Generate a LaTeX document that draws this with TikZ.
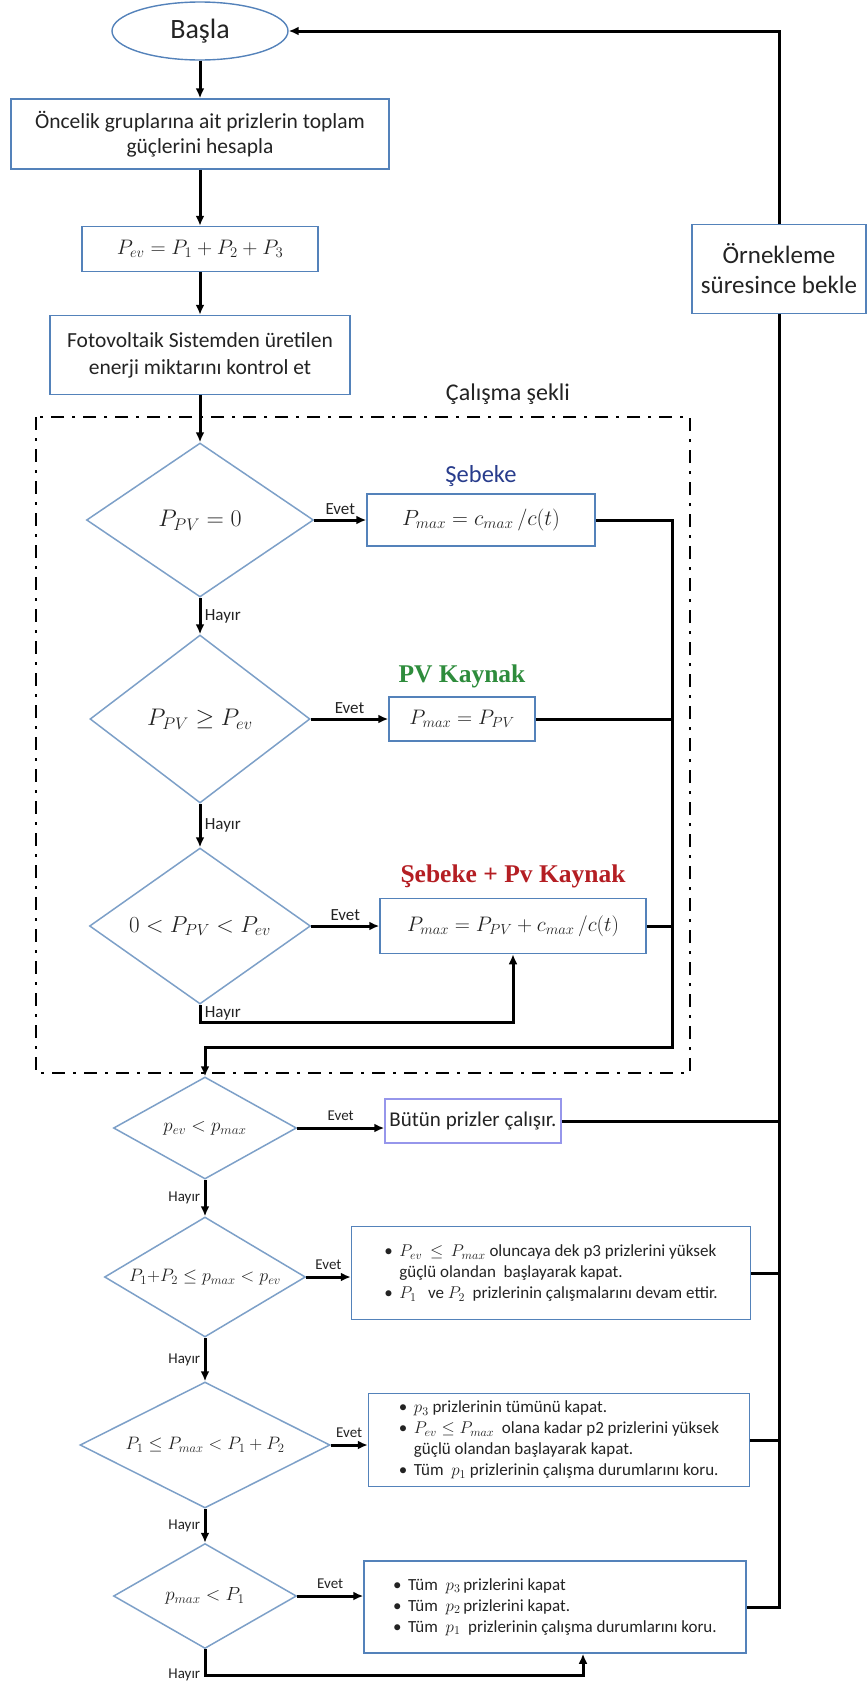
\RequirePackage{fix-cm}
\documentclass[tikz,border=0pt]{standalone}
\usepackage{fontspec}
\setmainfont{Carlito}
\newfontfamily\tnr{Liberation Serif}
\usetikzlibrary{shapes.geometric,arrows.meta,positioning,calc}
\definecolor{boxblue}{RGB}{84,130,186}
\definecolor{diablue}{RGB}{125,160,200}
\definecolor{lilac}{RGB}{150,150,235}
\definecolor{txt}{RGB}{35,35,35}
\definecolor{gridblue}{RGB}{40,60,140}
\definecolor{pvgreen}{RGB}{46,140,60}
\definecolor{mixred}{RGB}{180,30,35}
\newcommand\fsz[2]{\fontsize{#1}{#2}\selectfont}
\newcommand\itm{\makebox[15pt][l]{\textbullet}}
\newcommand\ind{\hspace*{15pt}}

\begin{document}
\begin{tikzpicture}[x=1pt,y=-1pt]

\tikzset{startnode/.style={ellipse,draw=boxblue,line width=1.4pt,minimum width=176pt,minimum height=58pt,inner sep=0pt,text=txt,font=\fsz{28}{34}},
procbox/.style={rectangle,draw=boxblue,line width=1.5pt,align=center,inner sep=0pt,text=txt},
decision/.style={diamond,draw=diablue,line width=1.5pt,aspect=2,inner sep=0pt,text=txt},
line/.style={line width=3pt,black},
arrow/.style={line,-{Latex[length=10pt,width=9pt]}},
evetlbl/.style={above=1pt,font=\fsz{17}{20},text=txt},
hayirlbl/.style={font=\fsz{17}{20},text=txt},
evetsm/.style={above=3pt,font=\fsz{15}{18},text=txt},
hayirsm/.style={font=\fsz{15}{18},text=txt},
workframe/.style={line width=2.8pt,dash pattern=on 13pt off 8pt on 3pt off 8pt}}

\useasboundingbox (0,0) rectangle (867,1682);

% Start and preparation
\node[startnode] (start) at (200,31) {Başla};
\node[procbox,minimum width=378pt,minimum height=70pt,font=\fsz{21.5}{25}] (sum) at (200,134) {Öncelik gruplarına ait prizlerin toplam\\güçlerini hesapla};
\node[procbox,minimum width=236pt,minimum height=45pt,font=\fsz{21}{25}] (pev) at (200,249) {$P_{ev} = P_1 + P_2 + P_3$};
\node[procbox,minimum width=300pt,minimum height=79pt,font=\fsz{21.5}{27}] (check) at (200,355) {Fotovoltaik Sistemden üretilen\\enerji miktarını kontrol et};
\node[procbox,minimum width=174pt,minimum height=89pt,font=\fsz{25}{30}] (wait) at (779,269) {Örnekleme\\süresince bekle};

% Working mode
\draw[workframe] (36,417) rectangle (690,1073);
\node[font=\fsz{24}{28},text=txt] (framelbl) at (508,394) {Çalışma şekli};

\node[decision,minimum width=227pt,minimum height=154pt,font=\fsz{24}{28}] (d1) at (200,520) {$P_{PV} = 0$};
\node[decision,minimum width=220pt,minimum height=168pt,font=\fsz{24}{28}] (d2) at (200,719) {$P_{PV} \geq P_{ev}$};
\node[decision,minimum width=221pt,minimum height=156pt,font=\fsz{23}{28}] (d3) at (200,926) {$0 < P_{PV} < P_{ev}$};

\node[procbox,minimum width=228pt,minimum height=52pt,font=\fsz{22}{26}] (grid) at (481,520) {$P_{max} = c_{max}\,/c(t)$};
\node[procbox,minimum width=146pt,minimum height=44pt,font=\fsz{21}{26}] (pv) at (462,719) {$P_{max} = P_{PV}$};
\node[procbox,minimum width=266pt,minimum height=55pt,font=\fsz{21}{26}] (both) at (513,926) {$P_{max} = P_{PV} + c_{max}\,/c(t)$};

\node[above=3pt of grid,font=\fsz{24.5}{28},text=gridblue] (gridlbl) {Şebeke};
\node[above=5pt of pv,font=\tnr\bfseries\fsz{25.5}{30},text=pvgreen] (pvlbl) {PV Kaynak};
\node[above=6pt of both,font=\tnr\bfseries\fsz{25.5}{30},text=mixred] (bothlbl) {Şebeke + Pv Kaynak};

\coordinate (join) at (672,1047);

% Switching of the sockets
\node[decision,minimum width=183pt,minimum height=102pt,font=\fsz{19}{22}] (d4) at (205,1128) {$p_{ev} < p_{max}$};
\node[procbox,draw=lilac,minimum width=176pt,minimum height=44pt,font=\fsz{21}{24}] (allon) at (473,1121) {Bütün prizler çalışır.};

\node[decision,minimum width=201pt,minimum height=120pt,font=\fsz{18}{22}] (d5) at (205,1277) {$P_1{+}P_2 \leq p_{max} < p_{ev}$};
\node[procbox,minimum width=399pt,minimum height=93pt,align=left,font=\fsz{17}{21}] (cut3) at (551,1273) {\itm $P_{ev}$\ \ $\leq$\ \ $P_{max}$\ oluncaya dek p3 prizlerini yüksek\\
\ind güçlü olandan\ \ başlayarak kapat.\\
\itm $P_1$\ \ \ ve $P_2$\ \ prizlerinin çalışmalarını devam ettir.};

\node[decision,minimum width=250pt,minimum height=126pt,font=\fsz{18}{22}] (d6) at (205,1445) {$P_1 \leq P_{max} < P_1 + P_2$};
\node[procbox,minimum width=381pt,minimum height=93pt,align=left,font=\fsz{17}{21}] (cut2) at (559,1440) {\itm $p_3$\ prizlerinin tümünü kapat.\\
\itm $P_{ev} \leq P_{max}$\ \ olana kadar p2 prizlerini yüksek\\
\ind güçlü olandan başlayarak kapat.\\
\itm Tüm\ \ $p_1$\ prizlerinin çalışma durumlarını koru.};

\node[decision,minimum width=183pt,minimum height=105pt,font=\fsz{19}{22}] (d7) at (205,1596) {$p_{max} < P_1$};
\node[procbox,minimum width=382pt,minimum height=92pt,align=left,font=\fsz{17}{21}] (cut1) at (555,1607) {\itm Tüm\ \ $p_3$\,prizlerini kapat\\
\itm Tüm\ \ $p_2$\,prizlerini kapat.\\
\itm Tüm\ \ $p_1$\ \ prizlerinin çalışma durumlarını koru.};

% Main flow
\draw[arrow] (start.south) -- (sum.north);
\draw[arrow] (sum.south) -- (pev.north);
\draw[arrow] (pev.south) -- (check.north);
\draw[arrow] (check.south) -- (d1.north);
\draw[arrow] (d1.south) -- node[hayirlbl,right] (h1) {Hayır} (d2.north);
\draw[arrow] (d2.south) -- node[hayirlbl,right] (h2) {Hayır} (d3.north);
\draw[arrow] (d1.east) -- node[evetlbl] (e1) {Evet} (grid.west);
\draw[arrow] (d2.east) -- node[evetlbl] (e2) {Evet} (pv.west);
\draw[arrow] (d3.east) -- node[evetlbl] (e3) {Evet} (both.west);
\draw[arrow] (d3.south) -- node[hayirlbl,right] (h3) {Hayır} ++(0,18) -| (both.south);

% Collect the sources and go on
\draw[arrow] (grid.east) -| (join) -| (d4.north);
\foreach \b in {pv,both} \draw[line] (\b.east) -- (\b.east -| join);

\draw[arrow] (d4.east) -- node[evetsm] (e4) {Evet} (d4.east -| allon.west);
\draw[arrow] (d4.south) -- node[hayirsm,left] (h4) {Hayır} (d5.north);
\draw[arrow] (d5.east) -- node[evetsm] (e5) {Evet} (d5.east -| cut3.west);
\draw[arrow] (d5.south) -- node[hayirsm,left] (h5) {Hayır} (d6.north);
\draw[arrow] (d6.east) -- node[evetsm] (e6) {Evet} (d6.east -| cut2.west);
\draw[arrow] (d6.south) -- node[hayirsm,left] (h6) {Hayır} (d7.north);
\draw[arrow] (d7.east) -- node[evetsm] (e7) {Evet} (d7.east -| cut1.west);
\draw[arrow] (d7.south) -- ++(0,26) node[hayirsm,left] (h7) {Hayır} -| ($(cut1.south)+(28,0)$);

% Back to the start
\draw[line] (cut1.east) -| (wait.south);
\foreach \b in {allon,cut3,cut2} \draw[line] (\b.east) -- (\b.east -| wait.south);
\draw[arrow] (wait.north) |- (start.east);

\end{tikzpicture}
\end{document}
